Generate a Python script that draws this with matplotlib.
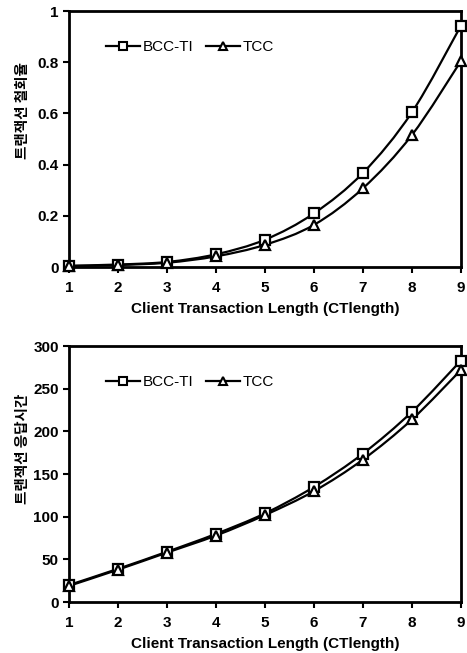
import matplotlib
matplotlib.use("Agg")
import matplotlib.pyplot as plt
import numpy as np
from matplotlib.path import Path
from matplotlib.patches import PathPatch

plt.rcParams['font.family'] = ['Liberation Sans', 'Noto Sans CJK KR', 'DejaVu Sans']

ct_length = [1, 2, 3, 4, 5, 6, 7, 8, 9]
abort_bcc = [0.005, 0.01, 0.02, 0.05, 0.107, 0.21, 0.368, 0.605, 0.943]
abort_tcc = [0.004, 0.008, 0.017, 0.042, 0.087, 0.165, 0.308, 0.516, 0.805]
resp_bcc = [20, 39, 59, 80, 104, 135, 174, 223, 283]
resp_tcc = [19, 38, 58, 78, 102, 130, 167, 214, 272]

xlabel = 'Client Transaction Length (CTlength)'
ylabel_top = '트랜잭션 철회율'
ylabel_bot = '트랜잭션 응답시간'


def smooth_line(ax, x, y):
    # excel style smoothed line: cubic bezier through the points
    x = np.asarray(x, float)
    y = np.asarray(y, float)
    verts = [(x[0], y[0])]
    codes = [Path.MOVETO]
    n = len(x)
    for i in range(n - 1):
        p0 = (x[max(i - 1, 0)], y[max(i - 1, 0)])
        p1 = (x[i], y[i])
        p2 = (x[i + 1], y[i + 1])
        p3 = (x[min(i + 2, n - 1)], y[min(i + 2, n - 1)])
        c1 = (p1[0] + (p2[0] - p0[0]) / 6, p1[1] + (p2[1] - p0[1]) / 6)
        c2 = (p2[0] - (p3[0] - p1[0]) / 6, p2[1] - (p3[1] - p1[1]) / 6)
        verts += [c1, c2, p2]
        codes += [Path.CURVE4] * 3
    ax.add_patch(PathPatch(Path(verts, codes), fill=False, lw=1.6,
                           edgecolor='black', zorder=2))


def draw(ax, a, b, ylim, yticks, yfmt, ylabel, label_y):
    smooth_line(ax, ct_length, a)
    smooth_line(ax, ct_length, b)
    ax.plot(ct_length, a, ls='none', marker='s', ms=7, mfc='white',
            mec='black', mew=1.6, zorder=3, clip_on=False)
    ax.plot(ct_length, b, ls='none', marker='^', ms=7.5, mfc='white',
            mec='black', mew=1.6, zorder=3, clip_on=False)
    # legend handles (smaller markers)
    ax.plot([], [], color='black', lw=1.6, marker='s', ms=5.5, mfc='white',
            mew=1.5, label='BCC-TI')
    ax.plot([], [], color='black', lw=1.6, marker='^', ms=6, mfc='white',
            mew=1.5, label='TCC')
    ax.set_xlim(1, 9)
    ax.set_ylim(*ylim)
    ax.set_xticks(ct_length)
    ax.set_yticks(yticks)
    ax.set_yticklabels([yfmt(v) for v in yticks])
    for s in ax.spines.values():
        s.set_linewidth(2)
    ax.tick_params(direction='out', width=1.5, length=4, labelsize=11)
    ax.tick_params(axis='x', pad=6)
    for t in ax.get_xticklabels() + ax.get_yticklabels():
        t.set_fontweight('bold')
    ax.set_xlabel(xlabel, fontsize=11, fontweight='bold', labelpad=5)
    ax.set_ylabel(ylabel, fontsize=10.5, fontweight='bold',
                  family=['Noto Sans CJK KR', 'DejaVu Sans'])
    ax.yaxis.set_label_coords(-0.10, label_y)
    ax.legend(loc='upper left', ncol=2, frameon=False, fontsize=11,
              handlelength=2.2, handletextpad=0.2, columnspacing=0.8,
              bbox_to_anchor=(0.06, 0.94))


fig = plt.figure(figsize=(4.67, 6.53), dpi=100)
ax1 = fig.add_axes([0.148, 0.591, 0.839, 0.392])
ax2 = fig.add_axes([0.148, 0.078, 0.839, 0.392])

draw(ax1, abort_bcc, abort_tcc, (0, 1), [0, 0.2, 0.4, 0.6, 0.8, 1],
     lambda v: '0' if v == 0 else ('1' if v == 1 else f'{v:.1f}'),
     ylabel_top, 0.613)
draw(ax2, resp_bcc, resp_tcc, (0, 300), [0, 50, 100, 150, 200, 250, 300],
     lambda v: f'{v:d}', ylabel_bot, 0.60)

fig.savefig('out.png', dpi=100)
